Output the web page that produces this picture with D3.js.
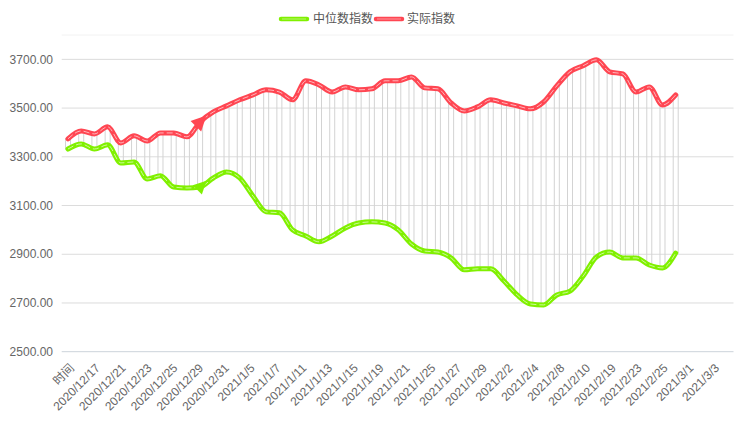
<!DOCTYPE html>
<html><head><meta charset="utf-8">
<script src="https://cdn.jsdelivr.net/npm/d3@7"></script>
<style>body{margin:0;background:#fff}svg{display:block;font-family:"Liberation Sans","Noto Sans CJK SC",sans-serif}</style>
</head><body><svg id="c" width="736" height="448"></svg>
<script>
// ---- data ----
const days = ["2020/12/17","2020/12/18","2020/12/21","2020/12/22","2020/12/23","2020/12/24","2020/12/25","2020/12/28","2020/12/29","2020/12/30","2020/12/31",
"2021/1/4","2021/1/5","2021/1/6","2021/1/7","2021/1/8","2021/1/11","2021/1/12","2021/1/13","2021/1/14","2021/1/15","2021/1/18","2021/1/19","2021/1/20","2021/1/21","2021/1/22",
"2021/1/25","2021/1/26","2021/1/27","2021/1/28","2021/1/29","2021/2/1","2021/2/2","2021/2/3","2021/2/4","2021/2/5","2021/2/8","2021/2/9","2021/2/10","2021/2/18","2021/2/19",
"2021/2/22","2021/2/23","2021/2/24","2021/2/25","2021/2/26","2021/3/1"];
const medianIndex = [3332,3353,3332,3349,3275,3279,3209,3222,3176,3172,3176,3213,3238,3213,3139,3074,3070,3000,2975,2951,2975,3008,3028,3033,3028,3000,2942,2913,2909,2885,2836,2840,2840,2790,2733,2696,2692,2733,2749,2811,2889,2909,2885,2885,2856,2844,2905];
const actualIndex = [3374,3406,3394,3423,3357,3386,3365,3398,3398,3382,3443,3484,3509,3534,3554,3575,3566,3534,3612,3595,3566,3587,3575,3579,3612,3612,3628,3583,3579,3521,3488,3505,3534,3521,3509,3497,3525,3591,3649,3674,3698,3649,3640,3566,3587,3513,3554];
const axisLabels = ["时间","2020/12/17","2020/12/21","2020/12/23","2020/12/25","2020/12/29","2020/12/31","2021/1/5","2021/1/7","2021/1/11","2021/1/13","2021/1/15","2021/1/19","2021/1/21","2021/1/25","2021/1/27","2021/1/29","2021/2/2","2021/2/4","2021/2/8","2021/2/10","2021/2/19","2021/2/23","2021/2/25","2021/3/1","2021/3/3"];
const yTicks = [2500,2700,2900,3100,3300,3500,3700];
const seriesNames = ["中位数指数","实际指数"];
const seriesColors = ["#80f000","#ff4652"];
const arrowIndex = 10;

// ---- layout ----
const svg = d3.select("#c");
const L = 61.7, R = 733.5, T = 35, B = 351.7;
const y = d3.scaleLinear().domain([2500,3800]).range([B,T]);
const x = d3.scalePoint().domain(days).range([68,675.7]);
const xl = d3.scalePoint().domain(axisLabels).range([72,717]);

const defs = svg.append("defs");
const g1 = defs.append("linearGradient").attr("id","axg").attr("x1",0).attr("y1",0).attr("x2",0).attr("y2",1);
g1.append("stop").attr("offset","0%").attr("stop-color","#d8eef9");
g1.append("stop").attr("offset","35%").attr("stop-color","#3aaee4");
g1.append("stop").attr("offset","70%").attr("stop-color","#8fd0f0");
g1.append("stop").attr("offset","100%").attr("stop-color","#d5dde3");

// grid
svg.append("line").attr("x1",L).attr("x2",R).attr("y1",T).attr("y2",T).attr("stroke","#f2f2f2");
svg.append("g").selectAll("line").data(yTicks).join("line")
  .attr("x1",L).attr("x2",R).attr("y1",d=>y(d)).attr("y2",d=>y(d))
  .attr("stroke",d=>d===2500?"#ccd3da":"#dcdcdc").attr("stroke-width",1);
svg.append("line").attr("x1",L).attr("x2",L).attr("y1",T).attr("y2",B).attr("stroke","url(#axg)").attr("stroke-width",1.2);
svg.append("line").attr("x1",R).attr("x2",R).attr("y1",T+5).attr("y2",B).attr("stroke","url(#axg)").attr("stroke-width",1.2);

// y labels
svg.append("g").selectAll("text").data(yTicks).join("text")
  .attr("x",53).attr("y",d=>y(d)).attr("dy","0.35em").attr("text-anchor","end")
  .attr("font-size",12).attr("fill","#666").text(d=>d3.format(".2f")(d));

// x labels
svg.append("g").selectAll("text").data(axisLabels).join("text")
  .attr("transform",d=>`translate(${xl(d)},${B+14}) rotate(-45)`)
  .attr("text-anchor","end").attr("dy","0.35em")
  .attr("font-size",12).attr("fill","#666").text(d=>d);

// range bars
svg.append("g").selectAll("rect").data(days).join("rect")
  .attr("x",d=>x(d)-2.5).attr("width",5)
  .attr("y",(d,i)=>y(actualIndex[i]))
  .attr("height",(d,i)=>y(medianIndex[i])-y(actualIndex[i]))
  .attr("fill","none").attr("stroke","#d3d3d3").attr("stroke-width",1);

// lines
const line = d3.line().x((d,i)=>x(days[i])).y(d=>y(d)).curve(d3.curveMonotoneX);
[medianIndex, actualIndex].forEach((vals,k)=>{
  svg.append("path").attr("d",line(vals)).attr("fill","none")
    .attr("stroke",seriesColors[k]).attr("stroke-width",5).attr("stroke-linecap","round").attr("stroke-linejoin","round");
  svg.append("path").attr("d",line(vals)).attr("fill","none")
    .attr("stroke","#fff").attr("stroke-opacity",0.6).attr("stroke-width",1).attr("stroke-dasharray","6,3");
  // arrow marker
  const ang = -45*Math.PI/180;
  const px = x(days[arrowIndex]), py = y(vals[arrowIndex]);
  const tx = px + 9*Math.cos(ang), ty = py + 9*Math.sin(ang);
  const len = k===1?15:13, wid = k===1?15:13;
  svg.append("path").attr("d",`M0,0 L${-len},${-wid/2} L${-len},${wid/2} Z`)
    .attr("transform",`translate(${tx},${ty}) rotate(-45)`).attr("fill",seriesColors[k]);
});

// legend
const lg = svg.append("g");
const legendItems = [{x0:279,tx:313},{x0:374,tx:407}];
seriesNames.forEach((n,k)=>{
  const it = legendItems[k];
  lg.append("line").attr("x1",it.x0+2).attr("x2",it.x0+28).attr("y1",19).attr("y2",19)
    .attr("stroke",seriesColors[k]).attr("stroke-width",4.5).attr("stroke-linecap","round");
  lg.append("line").attr("x1",it.x0+3).attr("x2",it.x0+27).attr("y1",19).attr("y2",19)
    .attr("stroke","#fff").attr("stroke-opacity",0.45).attr("stroke-width",1);
  lg.append("text").attr("x",it.tx).attr("y",19).attr("dy","0.35em").attr("font-size",12)
    .attr("fill","#555").text(n);
});
</script></body></html>
